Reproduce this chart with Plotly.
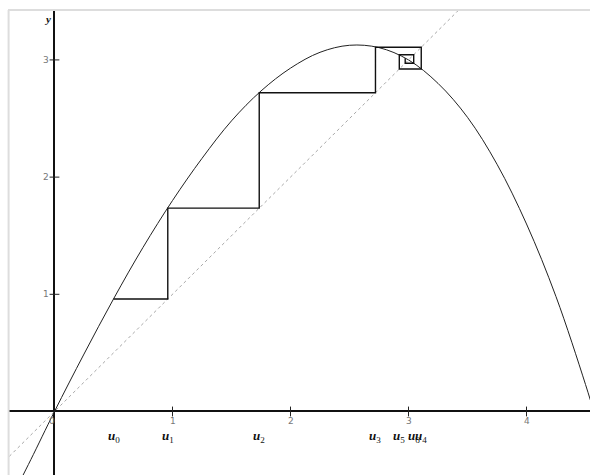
import plotly.graph_objects as go

# Curve y = f(x)
curve_x = [-0.30, -0.20, 0.00, 0.25, 0.50, 0.75, 1.00, 1.25, 1.50, 1.75, 2.00,
           2.25, 2.50, 2.75, 3.00, 3.25, 3.50, 3.75, 4.00, 4.25, 4.50, 4.60]
curve_y = [-0.61, -0.41, 0.00, 0.49, 0.96, 1.40, 1.80, 2.16, 2.48, 2.735, 2.93,
           3.065, 3.125, 3.105, 3.00, 2.80, 2.51, 2.11, 1.60, 0.98, 0.23, -0.10]

# Sequence terms u_n (u_{n+1} = f(u_n))
u_values = [0.50, 0.96, 1.735, 2.72, 3.108, 2.922, 3.044, 2.972, 3.015]
u_label_names = ["0", "1", "2", "3", "4", "5", "6"]

# Diagonal y = x endpoints
diag = [-0.6, 4.0]

# Tick values
x_ticks = [1, 2, 3, 4]
y_ticks = [1, 2, 3]

# Cobweb path
cx, cy = [], []
cx.append(u_values[0]); cy.append(u_values[1])
for i in range(1, len(u_values) - 1):
    cx.append(u_values[i]); cy.append(u_values[i])
    cx.append(u_values[i]); cy.append(u_values[i + 1])

XMIN, XMAX = -0.394, 4.538
YMIN, YMAX = -0.542, 3.426

fig = go.Figure()
fig.add_trace(go.Scatter(x=diag, y=diag, mode="lines",
                         line=dict(color="#a8a8a8", width=1, dash="3px,3px"),
                         hoverinfo="skip"))
fig.add_trace(go.Scatter(x=curve_x, y=curve_y, mode="lines", line_shape="spline",
                         line=dict(color="#222222", width=1), hoverinfo="skip"))
fig.add_trace(go.Scatter(x=cx, y=cy, mode="lines",
                         line=dict(color="#111111", width=1.4), hoverinfo="skip"))
# tick marks
fig.add_trace(go.Scatter(x=x_ticks, y=[0] * len(x_ticks), mode="markers",
                         marker=dict(symbol="line-ns-open", size=7, color="#222",
                                     line=dict(color="#222", width=1)),
                         hoverinfo="skip"))
fig.add_trace(go.Scatter(x=[0] * len(y_ticks), y=y_ticks, mode="markers",
                         marker=dict(symbol="line-ew-open", size=7, color="#222",
                                     line=dict(color="#222", width=1)),
                         hoverinfo="skip"))

annotations = []
for t in x_ticks:
    annotations.append(dict(x=t, y=0, text=str(t), showarrow=False, xanchor="center",
                            yanchor="top", yshift=-3,
                            font=dict(family="DejaVu Sans", size=9, color="#777")))
for t in y_ticks:
    annotations.append(dict(x=0, y=t, text=str(t), showarrow=False, xanchor="right",
                            yanchor="middle", xshift=-3,
                            font=dict(family="DejaVu Sans", size=9, color="#777")))
annotations.append(dict(x=0, y=0, text="0", showarrow=False, xanchor="right",
                        yanchor="top", xshift=3, yshift=-3,
                        font=dict(family="DejaVu Sans", size=9, color="#777")))
annotations.append(dict(x=0, y=YMAX, text="<b><i>y</i></b>", showarrow=False,
                        xanchor="right", yanchor="top", xshift=-1, yshift=-1,
                        font=dict(family="Liberation Serif", size=11, color="#111")))
for i, name in enumerate(u_label_names):
    annotations.append(dict(x=u_values[i], y=-0.21,
                            text="<b><i>u</i></b><sub>" + name + "</sub>",
                            showarrow=False, xanchor="center", yanchor="middle",
                            font=dict(family="Liberation Serif", size=13, color="#111")))

fig.update_layout(
    width=590, height=475,
    margin=dict(l=8, r=0, t=10, b=0),
    paper_bgcolor="white", plot_bgcolor="white",
    showlegend=False,
    xaxis=dict(range=[XMIN, XMAX], showgrid=False, showticklabels=False, ticks="",
               zeroline=True, zerolinecolor="#111", zerolinewidth=2, fixedrange=True),
    yaxis=dict(range=[YMIN, YMAX], showgrid=False, showticklabels=False, ticks="",
               zeroline=True, zerolinecolor="#111", zerolinewidth=2, fixedrange=True),
    annotations=annotations,
    shapes=[
        dict(type="line", xref="paper", yref="paper", x0=0, x1=1, y0=1, y1=1,
             line=dict(color="#dddddd", width=2)),
        dict(type="line", xref="paper", yref="paper", x0=0.001, x1=0.001, y0=0, y1=1,
             line=dict(color="#dddddd", width=2)),
    ],
)

fig.write_html("out.html", default_width="590px", default_height="475px",
               config={"displayModeBar": False, "staticPlot": True},
               post_script="document.body.style.margin='0';"
                           "document.body.style.overflow='hidden';")
